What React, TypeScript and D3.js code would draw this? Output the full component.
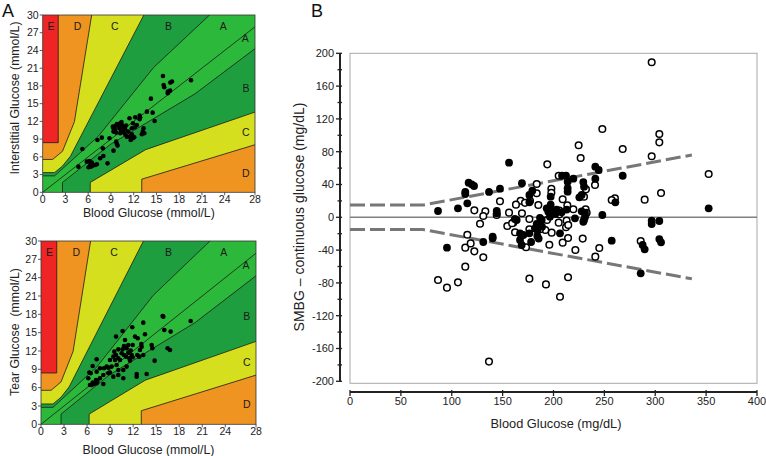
import React from 'react';
import * as d3 from 'd3';

type P = [number, number];

// ---------- Parkes error grid zone boundaries (mmol/L) ----------
const upperA: P[] = [[0, 2.78], [1.57, 2.78], [7.31, 9.44], [14.62, 21.11], [22.47, 30.56]];
const upperB: P[] = [[0, 3.33], [1.57, 3.33], [2.61, 4.44], [3.66, 6.11], [13.57, 30.56]];
const upperC: P[] = [[0, 5.56], [1.31, 5.56], [2.61, 6.94], [4.18, 11.94], [6.53, 30.56]];
const upperD: P[] = [[0, 8.4], [2.05, 8.4], [2.05, 31]];
const lowerA: P[] = [[2.61, 0], [2.61, 1.67], [8.88, 8.06], [20.1, 16.67], [28.72, 25]];
const lowerB: P[] = [[6.27, 0], [6.27, 1.67], [13.58, 7.22], [28.72, 13.89]];
const lowerC: P[] = [[13.06, 0], [13.06, 2.22], [28.72, 8.33]];
const identityLine: P[] = [[0, 0], [31, 31]];

const gridXTicks = [0, 3, 6, 9, 12, 15, 18, 21, 24, 28];
const gridYTicks = [0, 3, 6, 9, 12, 15, 18, 21, 24, 27, 30];
const zoneLabels: { t: string; x: number; y: number }[] = [
  { t: 'E', x: 1.1, y: 28.1 }, { t: 'D', x: 4.6, y: 28.1 }, { t: 'C', x: 9.5, y: 28.1 },
  { t: 'B', x: 16.6, y: 28.1 }, { t: 'A', x: 23.8, y: 28.1 }, { t: 'A', x: 26.7, y: 26.1 },
  { t: 'B', x: 26.8, y: 17.6 }, { t: 'C', x: 26.8, y: 10.2 }, { t: 'D', x: 26.8, y: 3.2 },
];

// ---------- Panel A data (blood glucose, sensor glucose) mmol/L ----------
const interstitialPoints: P[] = [
  [19.56, 18.95], [15.86, 19.68], [15.95, 18.16], [16.03, 17.77], [16.83, 18.56], [17.05, 18.73],
  [16.5, 16.75], [16.8, 17.2], [16.5, 17.03], [14.27, 15.85], [13.74, 13.65], [14.5, 13.48],
  [14.76, 12.07], [12.78, 12.97], [12.85, 12.69], [12.78, 12.35], [12.2, 12.69], [11.45, 12.52],
  [12.42, 11.39], [12.16, 11.0], [13.3, 10.83], [13.2, 10.27], [13.4, 9.98], [13.08, 9.81],
  [11.9, 11.68], [11.76, 10.83], [11.3, 10.27], [11.5, 9.42], [11.76, 9.81], [12.07, 9.31],
  [11.6, 8.85], [11.9, 9.14], [9.25, 11.11], [9.34, 10.83], [9.56, 11.22], [9.78, 11.56],
  [10.0, 11.39], [10.22, 11.68], [10.44, 11.39], [10.66, 11.0], [10.88, 10.66], [10.3, 10.55],
  [9.56, 10.55], [9.34, 10.27], [9.69, 10.1], [10.66, 10.15], [10.88, 9.81], [10.22, 9.98],
  [11.1, 9.42], [9.69, 8.57], [9.78, 8.18], [9.87, 7.9], [8.81, 9.14], [7.22, 8.85],
  [7.8, 9.25], [7.93, 7.44], [9.34, 7.05], [8.0, 6.15], [7.58, 5.75], [8.55, 4.9],
  [5.24, 7.33], [5.81, 5.19], [6.17, 5.3], [6.48, 5.02], [6.26, 4.62], [6.34, 4.34],
  [6.6, 4.51], [6.92, 4.62], [6.04, 4.23], [7.14, 4.74], [4.71, 4.34], [10.4, 11.9],
  [11.0, 11.3], [10.1, 10.9],
];
const tearPoints: P[] = [
  [19.49, 16.91], [15.84, 17.73], [15.93, 17.62], [16.06, 15.44], [16.88, 15.17], [16.49, 12.44],
  [16.8, 12.17], [13.32, 16.64], [11.89, 15.88], [10.63, 15.28], [9.77, 14.35], [13.54, 14.73],
  [12.24, 14.35], [12.59, 14.08], [10.94, 13.8], [11.37, 12.98], [13.06, 13.15], [13.11, 12.71],
  [14.41, 12.98], [14.5, 12.44], [13.32, 11.35], [14.8, 10.42], [13.76, 8.24], [12.46, 8.24],
  [12.46, 7.8], [10.72, 7.53], [11.15, 9.44], [10.72, 8.89], [10.07, 8.07], [9.42, 11.07],
  [9.77, 11.35], [10.07, 10.8], [9.64, 10.53], [10.29, 10.53], [10.5, 11.62], [10.81, 11.35],
  [11.07, 11.07], [11.37, 11.73], [11.68, 12.06], [11.81, 11.35], [11.94, 10.97], [11.5, 10.8],
  [11.59, 10.42], [11.15, 12.44], [10.63, 12.27], [10.07, 12.27], [9.55, 11.89], [12.54, 11.35],
  [12.8, 11.07], [12.89, 12.17], [11.94, 12.98], [10.81, 12.82], [8.98, 10.53], [9.2, 9.44],
  [8.55, 9.44], [8.77, 9.27], [8.2, 9.17], [9.85, 9.71], [10.07, 8.89], [8.77, 8.35],
  [8.98, 8.46], [8.12, 8.07], [7.25, 8.62], [7.68, 9.17], [7.25, 10.64], [6.73, 9.55],
  [6.47, 8.35], [6.29, 8.46], [6.16, 7.53], [7.16, 7.26], [7.34, 6.98], [7.25, 6.71],
  [6.73, 6.82], [6.38, 6.44], [6.6, 6.44], [6.9, 6.6], [8.12, 6.6], [7.68, 7.53], [9.42, 7.8],
];

// ---------- Panel B data (blood glucose mg/dL, SMBG - CGM mg/dL) ----------
const filledPoints: P[] = [
  [156.3, 66.6], [169, 41.5], [116.6, 42.2], [119.6, 40.2], [121.9, 38.2], [113.3, 30.9],
  [113.3, 28.4], [115.3, 17.1], [106.1, 11], [86.5, 7.7], [136.6, 30.9], [147.4, 34.9],
  [144.2, 7.7], [176.3, 18.3], [176.3, 27.2], [179.2, 32.4], [197.2, 25.1], [197.2, 15.4],
  [193.3, 11], [208.4, 50.7], [212.3, 50.7], [213.9, 43.4], [213.9, 35.4], [213.9, 31.2],
  [219.5, 47.1], [229.3, 43], [230, 37.3], [225.4, 24.4], [227.7, 27.2], [241.1, 61.7],
  [244.4, 57.7], [241.1, 47.1], [268, 50.7], [260.8, 18.3], [248, 2.8], [221.1, -1.3],
  [230, -3.3], [199.8, 4.9], [208, 6.1], [201.8, 4], [194.9, 6.9], [352.5, 11],
  [296.5, -4.1], [296.5, -8.2], [304, -4.5], [162, -2], [196.5, 9.4], [203, 9.4],
  [213, 9.4], [227.7, 7.3], [231, 5.3], [231, 0.4], [186.7, -0.6], [95.3, -37],
  [131, -30.1], [140.2, -25.6], [140.2, -23.6], [167.1, -19.6], [167.1, -27.7], [168.7, -33.8],
  [178, -30.1], [176.3, -19.6], [183.5, -8.2], [184.1, -15.5], [184.1, -22.8], [185.4, -26],
  [188.7, -11.4], [206.4, -19.6], [257.2, -28.5], [285.7, -68.3], [287.6, -33.8], [289.6, -39.1],
  [304, -26.5], [305.7, -30.5], [229.3, -5.4], [170.4, -21.6], [181.8, -13.5], [188.4, -3.3],
  [196.5, 0.8], [144.2, 4.9], [163.8, -3.3],
];
const openPoints: P[] = [
  [296.5, 189], [248, 107.7], [304, 101.6], [304, 91.4], [268, 83.3], [224.7, 87.8],
  [226.7, 72.3], [296.5, 74.4], [193.9, 64.6], [352.5, 52.8], [305.7, 29.6], [289.6, 21.5],
  [260.4, 23.2], [257.2, 21.1], [205.1, 50.7], [183.5, 40.6], [183.5, 29.3], [197.9, 34.9],
  [197.9, 30], [209, 22], [213.6, 14.6], [231.9, 34.1], [230, 25.1], [240.8, 39.4],
  [231.6, 9.8], [219.5, 9.8], [205.7, 8.1], [185.1, 15], [167.7, 20.2], [163.1, 15.4],
  [169, 4.9], [156.3, 5.7], [147.4, 19.5], [133, 7.3], [131, 1.6], [144.2, 2.8],
  [122.2, 8.5], [127.8, -7.8], [154.6, -10.6], [160.5, -6.5], [176.3, -2.1], [205.1, -6.5],
  [212.9, -4.1], [136.6, -176], [86.5, -76.5], [95.3, -85.8], [106.1, -79.3], [113.3, -60.2],
  [131, -48.8], [113.3, -37], [115.3, -21.2], [118.6, -31.8], [122.2, -41.5], [162.2, -18.3],
  [176.3, -14.7], [173, -36.6], [176.3, -74.8], [192.6, -81.8], [206.4, -96.8], [214.3, -73.2],
  [195.9, -33.4], [198.2, -18.7], [192, -15.5], [212.3, -12.2], [214.3, -25.2], [209, -30.9],
  [221.5, -39.9], [228.7, -26], [245, -37.4], [241.1, -48], [285.7, -28.9], [172, 17.6],
  [205.7, 3.6], [232.6, 5.6], [176.9, 20], [193.6, -3.3], [186.7, -14.6], [214.5, -9.3],
  [159.3, -7.3],
];
const diffXTicks = [0, 50, 100, 150, 200, 250, 300, 350, 400];
const diffYTicks = d3.range(-200, 201, 20);
const upperLimit: P[] = [[0, 15], [72, 15], [336, 76]];
const lowerLimit: P[] = [[0, -15], [72, -15], [336, -75]];

const FONT = "'Liberation Sans', Arial, sans-serif";
const COLORS = { E: '#ee2524', D: '#ef9421', C: '#d5df1d', B: '#1f9e40', A: '#2cb93b' };

function GridPanel(props: {
  left: number; right: number; top: number; bottom: number; pts: P[];
  yTitle: string; yTitleY: number; xTitleY: number; id: string;
}) {
  const { left, right, top, bottom, pts, yTitle, yTitleY, xTitleY, id } = props;
  const x = d3.scaleLinear().domain([0, 28]).range([left, right]);
  const y = d3.scaleLinear().domain([0, 30]).range([bottom, top]);
  const line = d3.line<P>().x(d => x(d[0])).y(d => y(d[1]));
  const between = (u: P[], l: P[]) => {
    const poly: P[] = [[0, 0], ...u, [40, u[u.length - 1][1]], [40, l[l.length - 1][1]], ...[...l].reverse()];
    return line(poly) + 'Z';
  };
  const eZone: P[] = [[0, upperD[0][1]], ...upperD.slice(1), [0, 31]];
  return (
    <g fontFamily={FONT}>
      <defs>
        <clipPath id={id}>
          <rect x={left} y={top} width={right - left} height={bottom - top} />
        </clipPath>
      </defs>
      <g clipPath={`url(#${id})`}>
        <rect x={left} y={top} width={right - left} height={bottom - top} fill={COLORS.D} />
        <path d={line(eZone) + 'Z'} fill={COLORS.E} />
        <path d={between(upperC, lowerC)} fill={COLORS.C} />
        <path d={between(upperB, lowerB)} fill={COLORS.B} />
        <path d={between(upperA, lowerA)} fill={COLORS.A} />
        {[upperA, upperB, upperC, upperD, lowerA, lowerB, lowerC, identityLine].map((l, i) => (
          <path key={i} d={line(l) || ''} fill="none" stroke="#1a1a1a" strokeWidth={0.8} />
        ))}
        {zoneLabels.map((z, i) => (
          <text key={i} x={x(z.x)} y={y(z.y)} dy="0.35em" textAnchor="middle" fontSize={10.5} fill="#1a1a1a">{z.t}</text>
        ))}
        {pts.map((p, i) => (
          <circle key={i} cx={x(p[0])} cy={y(p[1])} r={2.3} fill="#000" />
        ))}
      </g>
      <rect x={left} y={top} width={right - left} height={bottom - top} fill="none" stroke="#333" strokeWidth={0.8} />
      {gridXTicks.map(t => (
        <g key={t}>
          <line x1={x(t)} x2={x(t)} y1={bottom} y2={bottom + 3} stroke="#333" strokeWidth={0.8} />
          <text x={x(t)} y={bottom + 11} textAnchor="middle" fontSize={10.5} fill="#222">{t}</text>
        </g>
      ))}
      {gridYTicks.map(t => (
        <g key={t}>
          <line x1={left - 3} x2={left} y1={y(t)} y2={y(t)} stroke="#333" strokeWidth={0.8} />
          <text x={left - 4} y={y(t)} dy="0.35em" textAnchor="end" fontSize={10.5} fill="#222">{t}</text>
        </g>
      ))}
      <text x={(left + right) / 2} y={xTitleY} textAnchor="middle" fontSize={12.3} fill="#222">Blood Glucose (mmol/L)</text>
      <text transform={`translate(19,${yTitleY}) rotate(-90)`} textAnchor="middle" fontSize={12.3} fill="#222" style={{ whiteSpace: 'pre' }}>{yTitle}</text>
    </g>
  );
}

function DiffPanel() {
  const x = d3.scaleLinear().domain([0, 400]).range([350, 757]);
  const y = d3.scaleLinear().domain([-200, 200]).range([381.3, 53.3]);
  const line = d3.line<P>().x(d => x(d[0])).y(d => y(d[1]));
  return (
    <g fontFamily={FONT}>
      <rect x={350} y={53.3} width={407} height={330} fill="#fff" stroke="#a8a8a8" strokeWidth={1} />
      <line x1={350} x2={757} y1={y(0)} y2={y(0)} stroke="#808080" strokeWidth={1.5} />
      <path d={line(upperLimit) || ''} fill="none" stroke="#777" strokeWidth={3} strokeDasharray="15,5" />
      <path d={line(lowerLimit) || ''} fill="none" stroke="#777" strokeWidth={3} strokeDasharray="15,5" />
      {openPoints.map((p, i) => (
        <circle key={'o' + i} cx={x(p[0])} cy={y(p[1])} r={3.3} fill="#fff" stroke="#000" strokeWidth={1.5} />
      ))}
      {filledPoints.map((p, i) => (
        <circle key={'f' + i} cx={x(p[0])} cy={y(p[1])} r={3.9} fill="#000" />
      ))}
      <line x1={340} x2={340} y1={y(200)} y2={y(-200)} stroke="#222" strokeWidth={2} />
      {diffYTicks.map(t => (
        <g key={t}>
          <line x1={t % 40 === 0 ? 336 : 337.5} x2={342} y1={y(t)} y2={y(t)} stroke="#222" strokeWidth={1.3} />
          {t % 40 === 0 && (
            <text x={334} y={y(t)} dy="0.35em" textAnchor="end" fontSize={11} fill="#222">{t}</text>
          )}
        </g>
      ))}
      <line x1={350} x2={757} y1={392} y2={392} stroke="#222" strokeWidth={2} />
      {diffXTicks.map(t => (
        <g key={t}>
          <line x1={x(t)} x2={x(t)} y1={390} y2={396} stroke="#222" strokeWidth={1.3} />
          <text x={x(t)} y={404.5} textAnchor="middle" fontSize={11} fill="#222">{t}</text>
        </g>
      ))}
      <text x={556} y={427.5} textAnchor="middle" fontSize={12.8} fill="#222">Blood Glucose (mg/dL)</text>
      <text transform="translate(304,217) rotate(-90)" textAnchor="middle" fontSize={14} fill="#222">SMBG – continuous glucose (mg/dL)</text>
    </g>
  );
}

export default function App() {
  return (
    <svg width={766} height={456} style={{ position: 'absolute', left: 0, top: 0, background: '#fff' }}>
      <rect width={766} height={456} fill="#fff" />
      <text x={2} y={17} fontSize={18} fontFamily={FONT} fill="#111">A</text>
      <text x={311} y={17} fontSize={18} fontFamily={FONT} fill="#111">B</text>
      <GridPanel left={42.7} right={255} top={15} bottom={192.3} pts={interstitialPoints}
        yTitle="Interstitial Glucose (mmol/L)" yTitleY={98} xTitleY={216.5} id="clipTop" />
      <GridPanel left={41} right={256} top={241} bottom={424.3} pts={tearPoints}
        yTitle="Tear Glucose  (mmol/L)" yTitleY={332} xTitleY={453.5} id="clipBottom" />
      <DiffPanel />
    </svg>
  );
}
